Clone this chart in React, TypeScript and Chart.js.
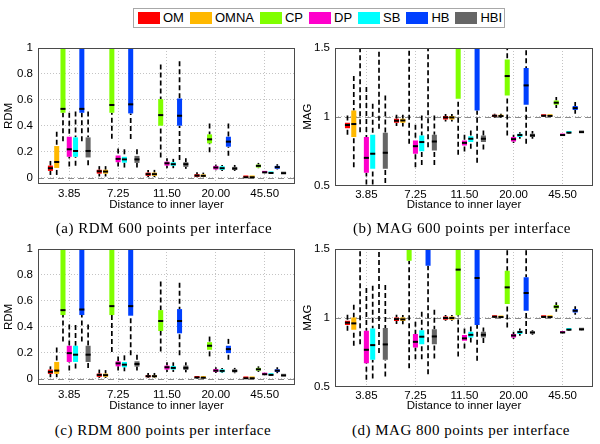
import React, { useEffect, useRef } from "react";
import { Chart, registerables } from "chart.js";
Chart.register(...registerables);

// ---------- data ----------
const methods = ["OM", "OMNA", "CP", "DP", "SB", "HB", "HBI"];
const colors = ["#ff0000", "#ffb800", "#80ff00", "#ff00cc", "#00ffff", "#0040ff", "#666666"];
const distances = ["3.85", "7.25", "11.50", "20.00", "45.50"];
const rdmTicks = [0, 0.2, 0.4, 0.6, 0.8, 1];
const magTicks = [0.5, 1, 1.5];

// rows: OM, OMNA, CP, DP, SB, HB, HBI ; columns: distances
// (a) RDM 600
const rdm600Lo = [
  [0.02, 0.008, 0.003, 0.003, 0.0],
  [0.02, 0.008, 0.003, 0.003, 0.0],
  [0.28, 0.3, 0.154, 0.195, 0.072],
  [0.085, 0.085, 0.072, 0.056, 0.033],
  [0.09, 0.077, 0.072, 0.051, 0.029],
  [0.28, 0.297, 0.136, 0.169, 0.062],
  [0.095, 0.077, 0.067, 0.051, 0.027],
];
const rdm600Q1 = [
  [0.051, 0.03, 0.013, 0.005, 0.0005],
  [0.074, 0.03, 0.013, 0.005, 0.0005],
  [0.5, 0.5, 0.4, 0.264, 0.077],
  [0.16, 0.118, 0.092, 0.062, 0.036],
  [0.16, 0.115, 0.09, 0.059, 0.032],
  [0.5, 0.495, 0.4, 0.238, 0.067],
  [0.155, 0.113, 0.082, 0.059, 0.03],
];
const rdm600Med = [
  [0.072, 0.048, 0.026, 0.015, 0.002],
  [0.12, 0.046, 0.026, 0.013, 0.002],
  [0.53, 0.56, 0.482, 0.295, 0.09],
  [0.218, 0.144, 0.11, 0.077, 0.04],
  [0.205, 0.14, 0.103, 0.072, 0.035],
  [0.53, 0.565, 0.477, 0.277, 0.08],
  [0.205, 0.14, 0.103, 0.069, 0.033],
];
const rdm600Q3 = [
  [0.092, 0.06, 0.038, 0.026, 0.004],
  [0.243, 0.06, 0.038, 0.024, 0.004],
  [1.25, 1.2, 0.605, 0.333, 0.1],
  [0.315, 0.17, 0.123, 0.09, 0.044],
  [0.31, 0.16, 0.118, 0.087, 0.038],
  [1.25, 1.2, 0.61, 0.315, 0.09],
  [0.31, 0.167, 0.118, 0.082, 0.036],
];
const rdm600Hi = [
  [0.128, 0.088, 0.059, 0.041, 0.006],
  [0.354, 0.088, 0.059, 0.038, 0.006],
  [1.9, 1.8, 0.872, 0.418, 0.113],
  [0.5, 0.225, 0.149, 0.1, 0.05],
  [0.51, 0.218, 0.144, 0.097, 0.042],
  [1.9, 1.8, 0.897, 0.418, 0.103],
  [0.51, 0.218, 0.149, 0.097, 0.04],
];

// (b) MAG 600
const mag600Lo = [
  [0.869, 0.932, 0.966, 0.993, 1.0],
  [0.633, 0.93, 0.966, 0.993, 1.0],
  [0.888, 0.803, 0.723, 0.864, 1.063],
  [0.45, 0.633, 0.748, 0.81, 0.86],
  [0.45, 0.65, 0.767, 0.84, 0.878],
  [0.913, 0.779, 0.665, 0.803, 1.022],
  [0.519, 0.65, 0.762, 0.84, 0.882],
];
const mag600Q1 = [
  [0.917, 0.956, 0.98, 1.0, 1.003],
  [0.852, 0.956, 0.98, 1.0, 1.003],
  [1.6, 1.6, 1.131, 1.155, 1.087],
  [0.592, 0.731, 0.791, 0.82, 0.864],
  [0.621, 0.75, 0.816, 0.852, 0.882],
  [1.6, 1.6, 1.046, 1.087, 1.049],
  [0.621, 0.755, 0.816, 0.852, 0.886],
];
const mag600Med = [
  [0.94, 0.971, 0.995, 1.007, 1.007],
  [0.947, 0.973, 0.995, 1.005, 1.006],
  [1.8, 1.8, 1.6, 1.296, 1.102],
  [0.701, 0.786, 0.81, 0.837, 0.867],
  [0.731, 0.816, 0.84, 0.867, 0.884],
  [1.8, 1.8, 1.6, 1.228, 1.063],
  [0.738, 0.82, 0.84, 0.864, 0.888],
];
const mag600Q3 = [
  [0.956, 0.985, 1.005, 1.015, 1.01],
  [1.046, 0.985, 1.005, 1.012, 1.009],
  [2.0, 2.0, 2.0, 1.417, 1.119],
  [0.852, 0.828, 0.828, 0.852, 0.87],
  [0.869, 0.864, 0.859, 0.876, 0.886],
  [2.0, 2.0, 2.0, 1.354, 1.078],
  [0.883, 0.869, 0.864, 0.876, 0.89],
];
const mag600Hi = [
  [1.01, 1.015, 1.02, 1.022, 1.012],
  [1.296, 1.015, 1.02, 1.022, 1.012],
  [2.5, 2.5, 2.5, 1.52, 1.143],
  [1.216, 0.942, 0.869, 0.869, 0.874],
  [1.095, 1.01, 0.9, 0.888, 0.89],
  [2.5, 2.5, 2.5, 1.483, 1.107],
  [1.155, 1.01, 0.9, 0.896, 0.894],
];

// (c) RDM 800
const rdm800Lo = [
  [0.01, 0.005, 0.005, 0.0, 0.0],
  [0.01, 0.005, 0.005, 0.0, 0.0],
  [0.286, 0.204, 0.209, 0.171, 0.051],
  [0.061, 0.061, 0.051, 0.043, 0.028],
  [0.077, 0.056, 0.051, 0.043, 0.024],
  [0.286, 0.179, 0.179, 0.145, 0.041],
  [0.082, 0.061, 0.048, 0.041, 0.02],
];
const rdm800Q1 = [
  [0.036, 0.013, 0.01, 0.004, 0.0005],
  [0.036, 0.013, 0.01, 0.003, 0.0005],
  [0.49, 0.49, 0.367, 0.222, 0.061],
  [0.128, 0.094, 0.069, 0.051, 0.03],
  [0.128, 0.087, 0.069, 0.048, 0.026],
  [0.49, 0.485, 0.349, 0.196, 0.051],
  [0.128, 0.092, 0.066, 0.048, 0.021],
];
const rdm800Med = [
  [0.051, 0.028, 0.018, 0.008, 0.002],
  [0.061, 0.026, 0.018, 0.006, 0.002],
  [0.528, 0.559, 0.444, 0.253, 0.071],
  [0.196, 0.117, 0.087, 0.061, 0.033],
  [0.184, 0.107, 0.082, 0.059, 0.028],
  [0.533, 0.559, 0.444, 0.227, 0.061],
  [0.184, 0.112, 0.082, 0.059, 0.023],
];
const rdm800Q3 = [
  [0.069, 0.038, 0.025, 0.012, 0.004],
  [0.128, 0.038, 0.025, 0.01, 0.004],
  [1.25, 1.2, 0.528, 0.281, 0.082],
  [0.253, 0.133, 0.1, 0.074, 0.035],
  [0.253, 0.128, 0.097, 0.071, 0.03],
  [1.25, 1.2, 0.536, 0.253, 0.071],
  [0.253, 0.133, 0.1, 0.071, 0.025],
];
const rdm800Hi = [
  [0.094, 0.069, 0.043, 0.02, 0.006],
  [0.24, 0.065, 0.043, 0.018, 0.006],
  [1.9, 1.8, 0.75, 0.324, 0.094],
  [0.418, 0.171, 0.125, 0.087, 0.037],
  [0.413, 0.179, 0.125, 0.082, 0.032],
  [1.9, 1.8, 0.74, 0.306, 0.087],
  [0.418, 0.184, 0.125, 0.082, 0.027],
];

// (d) MAG 800
const mag800Lo = [
  [0.905, 0.954, 0.978, 1.0, 1.0],
  [0.796, 0.952, 0.978, 1.0, 1.0],
  [0.808, 0.633, 0.718, 0.93, 1.044],
  [0.549, 0.699, 0.777, 0.845, 0.888],
  [0.558, 0.699, 0.82, 0.869, 0.908],
  [0.743, 0.59, 0.687, 0.881, 1.022],
  [0.573, 0.704, 0.816, 0.876, 0.91],
];
const mag800Q1 = [
  [0.947, 0.976, 0.985, 1.003, 1.003],
  [0.913, 0.976, 0.985, 1.002, 1.003],
  [1.6, 1.415, 1.019, 1.1, 1.068],
  [0.67, 0.784, 0.833, 0.857, 0.89],
  [0.694, 0.808, 0.857, 0.881, 0.911],
  [1.6, 1.379, 0.947, 1.051, 1.039],
  [0.694, 0.808, 0.857, 0.886, 0.913],
];
const mag800Med = [
  [0.964, 0.99, 0.998, 1.007, 1.006],
  [0.959, 0.988, 0.998, 1.005, 1.005],
  [1.8, 1.6, 1.35, 1.221, 1.08],
  [0.767, 0.825, 0.85, 0.871, 0.893],
  [0.801, 0.862, 0.876, 0.896, 0.913],
  [1.8, 1.6, 1.289, 1.18, 1.051],
  [0.806, 0.864, 0.876, 0.893, 0.915],
];
const mag800Q3 = [
  [0.978, 1.002, 1.01, 1.01, 1.008],
  [1.002, 1.002, 1.01, 1.008, 1.007],
  [2.0, 2.0, 1.6, 1.342, 1.092],
  [0.905, 0.881, 0.874, 0.881, 0.896],
  [0.922, 0.91, 0.898, 0.905, 0.916],
  [2.0, 2.0, 1.6, 1.294, 1.063],
  [0.925, 0.917, 0.898, 0.9, 0.918],
];
const mag800Hi = [
  [1.022, 1.022, 1.02, 1.015, 1.01],
  [1.095, 1.02, 1.02, 1.013, 1.01],
  [2.5, 2.5, 2.0, 1.55, 1.112],
  [1.216, 0.971, 0.922, 0.898, 0.898],
  [1.233, 1.044, 0.937, 0.922, 0.918],
  [2.5, 2.5, 2.0, 1.55, 1.083],
  [1.238, 1.058, 0.93, 0.91, 0.92],
];

const captions = [
  "(a) RDM 600 points per interface",
  "(b) MAG 600 points per interface",
  "(c) RDM 800 points per interface",
  "(d) MAG 800 points per interface",
];

// ---------- rendering ----------
const SANS = '"Liberation Sans", Arial, Helvetica, sans-serif';

type Geo = {
  left: number; top: number; w: number; h: number;
  padTop: number; padRight: number; yWidth: number; xHeight: number;
  xTickPad: number; yTitlePad: number;
};

type PanelSpec = {
  geo: Geo;
  yTitle: string;
  yMin: number; yMax: number; yTicks: number[]; ref: number;
  lo: number[][]; q1: number[][]; med: number[][]; q3: number[][]; hi: number[][];
};

function boxPlugin(ref: number) {
  return {
    id: "boxWhisker",
    beforeDatasetsDraw(chart: any) {
      const { ctx, chartArea: a, scales } = chart;
      const y = scales.y;
      ctx.save();
      ctx.beginPath();
      ctx.rect(a.left, a.top, a.right - a.left, a.bottom - a.top);
      ctx.clip();
      // reference line
      const ry = Math.round(y.getPixelForValue(ref)) + 0.5;
      ctx.setLineDash([6, 4]);
      ctx.strokeStyle = "#8c8c8c";
      ctx.lineWidth = 1;
      ctx.beginPath();
      ctx.moveTo(a.left, ry);
      ctx.lineTo(a.right, ry);
      ctx.stroke();
      // whiskers
      ctx.setLineDash([5, 3]);
      ctx.strokeStyle = "#000";
      ctx.lineWidth = 1.7;
      chart.data.datasets.forEach((ds: any, di: number) => {
        const meta = chart.getDatasetMeta(di);
        meta.data.forEach((bar: any, j: number) => {
          const x = bar.x;
          const pLo = y.getPixelForValue(ds.lo[j]);
          const pQ1 = y.getPixelForValue(ds.q1[j]);
          const pQ3 = y.getPixelForValue(ds.q3[j]);
          const pHi = y.getPixelForValue(ds.hi[j]);
          ctx.beginPath();
          ctx.moveTo(x, pLo);
          ctx.lineTo(x, pQ1);
          ctx.stroke();
          ctx.beginPath();
          ctx.moveTo(x, pHi);
          ctx.lineTo(x, pQ3);
          ctx.stroke();
        });
      });
      ctx.restore();
    },
    afterDatasetsDraw(chart: any) {
      const { ctx, chartArea: a, scales } = chart;
      const y = scales.y;
      ctx.save();
      ctx.beginPath();
      ctx.rect(a.left, a.top, a.right - a.left, a.bottom - a.top);
      ctx.clip();
      ctx.fillStyle = "#000";
      chart.data.datasets.forEach((ds: any, di: number) => {
        const meta = chart.getDatasetMeta(di);
        meta.data.forEach((bar: any, j: number) => {
          const pm = y.getPixelForValue(ds.med[j]);
          const w = bar.width;
          ctx.fillRect(bar.x - w / 2, pm - 1, w, 2);
        });
      });
      ctx.restore();
      // frame
      ctx.save();
      ctx.strokeStyle = "#4a4a4a";
      ctx.lineWidth = 1;
      ctx.strokeRect(Math.round(a.left) + 0.5, Math.round(a.top) + 0.5,
        Math.round(a.right - a.left) - 1, Math.round(a.bottom - a.top) - 1);
      ctx.restore();
    },
  };
}

function makeConfig(spec: PanelSpec): any {
  const g = spec.geo;
  const datasets = methods.map((m, i) => ({
    label: m,
    data: distances.map((_, j) => ({ x: j + 1, y: [spec.q1[i][j], spec.q3[i][j]] })),
    backgroundColor: colors[i],
    borderWidth: 0,
    categoryPercentage: 0.9,
    barPercentage: 0.8,
    minBarLength: 2,
    lo: spec.lo[i],
    q1: spec.q1[i],
    med: spec.med[i],
    q3: spec.q3[i],
    hi: spec.hi[i],
  }));
  return {
    type: "bar",
    data: { datasets },
    options: {
      animation: false,
      responsive: false,
      maintainAspectRatio: false,
      devicePixelRatio: 1,
      layout: { padding: { top: g.padTop, right: g.padRight, left: 0, bottom: 0 } },
      plugins: { legend: { display: false }, tooltip: { enabled: false } },
      scales: {
        x: {
          type: "linear",
          min: 0.36,
          max: 5.62,
          bounds: "data",
          offset: false,
          grid: { offset: false, color: "#c4c4c4", lineWidth: 1, drawTicks: false },
          border: { display: false, dash: [1, 2] },
          ticks: {
            padding: g.xTickPad,
            color: "#000",
            font: { family: SANS, size: 11.5 },
            maxRotation: 0,
            autoSkip: false,
            callback: (v: number) => distances[Math.round(v) - 1] ?? "",
          },
          afterBuildTicks: (s: any) => {
            s.ticks = distances.map((_, i) => ({ value: i + 1 }));
          },
          afterFit: (s: any) => {
            s.height = g.xHeight;
          },
          title: {
            display: true,
            text: "Distance to inner layer",
            color: "#000",
            font: { family: SANS, size: 11.5 },
            padding: { top: 0, bottom: 3 },
          },
        },
        y: {
          type: "linear",
          min: spec.yMin,
          max: spec.yMax,
          bounds: "data",
          grid: { color: "#c4c4c4", lineWidth: 1, drawTicks: false },
          border: { display: false, dash: [1, 2] },
          ticks: {
            padding: 5,
            color: "#000",
            font: { family: SANS, size: 11.5 },
            callback: (v: number) => String(v),
          },
          afterBuildTicks: (s: any) => {
            s.ticks = spec.yTicks.map((v) => ({ value: v }));
          },
          afterFit: (s: any) => {
            s.width = g.yWidth;
          },
          title: {
            display: true,
            text: spec.yTitle,
            color: "#000",
            font: { family: SANS, size: 11.5 },
            padding: { top: g.yTitlePad, bottom: 0 },
          },
        },
      },
    },
    plugins: [boxPlugin(spec.ref)],
  };
}

function Panel({ spec }: { spec: PanelSpec }) {
  const ref = useRef<HTMLCanvasElement | null>(null);
  useEffect(() => {
    if (!ref.current) return;
    const chart = new Chart(ref.current, makeConfig(spec));
    return () => chart.destroy();
  }, [spec]);
  const g = spec.geo;
  return (
    <canvas
      ref={ref}
      width={g.w}
      height={g.h}
      style={{ position: "absolute", left: g.left, top: g.top, width: g.w, height: g.h }}
    />
  );
}

const geoLeft = (top: number): Geo => ({
  left: 0, top, w: 300, h: 180, padTop: 13, padRight: 5, yWidth: 38, xHeight: 31, xTickPad: 3, yTitlePad: 2,
});
const geoRight = (top: number): Geo => ({
  left: 300, top, w: 300, h: 180, padTop: 13, padRight: 7, yWidth: 35, xHeight: 29.5, xTickPad: 2, yTitlePad: 1,
});

const specs: PanelSpec[] = [
  { geo: geoLeft(35), yTitle: "RDM", yMin: -0.05, yMax: 1, yTicks: rdmTicks, ref: 0,
    lo: rdm600Lo, q1: rdm600Q1, med: rdm600Med, q3: rdm600Q3, hi: rdm600Hi },
  { geo: geoRight(35), yTitle: "MAG", yMin: 0.5, yMax: 1.5, yTicks: magTicks, ref: 1,
    lo: mag600Lo, q1: mag600Q1, med: mag600Med, q3: mag600Q3, hi: mag600Hi },
  { geo: geoLeft(236), yTitle: "RDM", yMin: -0.05, yMax: 1, yTicks: rdmTicks, ref: 0,
    lo: rdm800Lo, q1: rdm800Q1, med: rdm800Med, q3: rdm800Q3, hi: rdm800Hi },
  { geo: geoRight(236), yTitle: "MAG", yMin: 0.5, yMax: 1.5, yTicks: magTicks, ref: 1,
    lo: mag800Lo, q1: mag800Q1, med: mag800Med, q3: mag800Q3, hi: mag800Hi },
];

const captionPos = [
  { cx: 164, cy: 228 },
  { cx: 462, cy: 228 },
  { cx: 163, cy: 430 },
  { cx: 461, cy: 430 },
];

export default function App() {
  return (
    <div style={{ position: "fixed", left: 0, top: 0, width: 600, height: 444, background: "#fff", overflow: "hidden" }}>
      {/* legend */}
      <div
        style={{
          position: "absolute", left: 133, top: 8, width: 372, height: 20, boxSizing: "border-box",
          border: "1px solid #a8a8a8", display: "flex", alignItems: "center", paddingLeft: 4,
          fontFamily: SANS, fontSize: 13, color: "#000", whiteSpace: "nowrap",
        }}
      >
        {methods.map((m, i) => (
          <div key={m} style={{ display: "flex", alignItems: "center", marginRight: 6 }}>
            <span style={{ display: "inline-block", width: 22, height: 12, background: colors[i], marginRight: 3 }} />
            <span style={{ lineHeight: "14px" }}>{m}</span>
          </div>
        ))}
      </div>
      {specs.map((s, i) => (
        <Panel key={i} spec={s} />
      ))}
      {captions.map((c, i) => (
        <div
          key={c}
          style={{
            position: "absolute", left: captionPos[i].cx - 150, top: captionPos[i].cy - 9, width: 300,
            height: 18, lineHeight: "18px", textAlign: "center", whiteSpace: "nowrap",
            fontFamily: '"Liberation Serif", "Times New Roman", serif', fontSize: 15, letterSpacing: 0.5, color: "#000",
          }}
        >
          {c}
        </div>
      ))}
    </div>
  );
}
